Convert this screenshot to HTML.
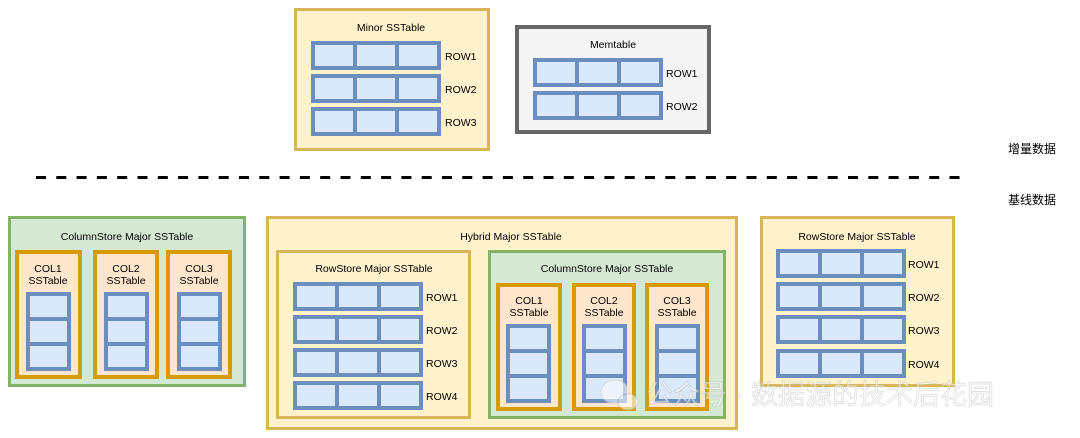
<!DOCTYPE html>
<html><head><meta charset="utf-8"><style>
html,body{margin:0;padding:0;background:#fff;}
svg{display:block;}
text{font-family:"Liberation Sans","Noto Sans CJK SC",sans-serif;font-size:10.5px;fill:#000;}
.cn{font-size:12px;}
</style></head><body>
<svg width="1080" height="438" viewBox="0 0 1080 438" xmlns="http://www.w3.org/2000/svg">
<defs>
<g id="row">
<rect x="2" y="2" width="126" height="25" fill="#dae8fc" stroke="#6c8ebf" stroke-width="4"/>
<line x1="44" y1="2" x2="44" y2="27" stroke="#6c8ebf" stroke-width="4"/>
<line x1="86" y1="2" x2="86" y2="27" stroke="#6c8ebf" stroke-width="4"/>
</g>
<g id="col">
<rect x="2" y="2" width="41" height="75" fill="#dae8fc" stroke="#6c8ebf" stroke-width="4"/>
<line x1="2" y1="27" x2="43" y2="27" stroke="#6c8ebf" stroke-width="4"/>
<line x1="2" y1="52" x2="43" y2="52" stroke="#6c8ebf" stroke-width="4"/>
</g>
</defs>

<!-- Minor SSTable -->
<rect x="295.5" y="9.5" width="193" height="140" fill="#fff2cc" stroke="#d6b656" stroke-width="3"/>
<text x="391" y="31" text-anchor="middle">Minor SSTable</text>
<use href="#row" x="311" y="41"/>
<use href="#row" x="311" y="74"/>
<use href="#row" x="311" y="107"/>
<text x="445" y="60">ROW1</text>
<text x="445" y="93">ROW2</text>
<text x="445" y="126">ROW3</text>

<!-- Memtable -->
<rect x="517" y="27" width="192" height="105" fill="#f5f5f5" stroke="#666666" stroke-width="4"/>
<text x="613" y="48" text-anchor="middle">Memtable</text>
<use href="#row" x="533" y="58"/>
<use href="#row" x="533" y="91"/>
<text x="666" y="77">ROW1</text>
<text x="666" y="110">ROW2</text>

<!-- dashed line -->
<line x1="36" y1="177.5" x2="968" y2="177.5" stroke="#000" stroke-width="3" stroke-dasharray="10,10.3"/>
<text class="cn" x="1008" y="153">增量数据</text>
<text class="cn" x="1008" y="204">基线数据</text>

<!-- Left ColumnStore -->
<rect x="9.5" y="217.5" width="235" height="168" fill="#d5e8d4" stroke="#82b366" stroke-width="3"/>
<text x="127" y="240" text-anchor="middle">ColumnStore Major SSTable</text>
<rect x="17" y="252" width="63" height="125" fill="#ffe6cc" stroke="#d79b00" stroke-width="4"/>
<text x="48" y="272" text-anchor="middle">COL1</text><text x="48" y="284" text-anchor="middle">SSTable</text>
<use href="#col" x="26" y="292"/>
<rect x="95" y="252" width="62" height="125" fill="#ffe6cc" stroke="#d79b00" stroke-width="4"/>
<text x="126" y="272" text-anchor="middle">COL2</text><text x="126" y="284" text-anchor="middle">SSTable</text>
<use href="#col" x="104" y="292"/>
<rect x="168" y="252" width="62" height="125" fill="#ffe6cc" stroke="#d79b00" stroke-width="4"/>
<text x="199" y="272" text-anchor="middle">COL3</text><text x="199" y="284" text-anchor="middle">SSTable</text>
<use href="#col" x="177" y="292"/>

<!-- Hybrid -->
<rect x="267.5" y="217.5" width="469" height="211" fill="#fff2cc" stroke="#d6b656" stroke-width="3"/>
<text x="511" y="240" text-anchor="middle">Hybrid Major SSTable</text>
<rect x="277.5" y="251.5" width="192" height="166" fill="#fff2cc" stroke="#d6b656" stroke-width="3"/>
<text x="374" y="272" text-anchor="middle">RowStore Major SSTable</text>
<use href="#row" x="293" y="282"/>
<use href="#row" x="293" y="315"/>
<use href="#row" x="293" y="348"/>
<use href="#row" x="293" y="381"/>
<text x="426" y="301">ROW1</text>
<text x="426" y="334">ROW2</text>
<text x="426" y="367">ROW3</text>
<text x="426" y="400">ROW4</text>

<rect x="489.5" y="251.5" width="235" height="166" fill="#d5e8d4" stroke="#82b366" stroke-width="3"/>
<text x="607" y="272" text-anchor="middle">ColumnStore Major SSTable</text>
<rect x="498" y="285" width="62" height="124" fill="#ffe6cc" stroke="#d79b00" stroke-width="4"/>
<text x="529" y="304" text-anchor="middle">COL1</text><text x="529" y="316" text-anchor="middle">SSTable</text>
<use href="#col" x="506" y="324"/>
<rect x="574" y="285" width="60" height="124" fill="#ffe6cc" stroke="#d79b00" stroke-width="4"/>
<text x="604" y="304" text-anchor="middle">COL2</text><text x="604" y="316" text-anchor="middle">SSTable</text>
<use href="#col" x="582" y="324"/>
<rect x="647" y="285" width="60" height="124" fill="#ffe6cc" stroke="#d79b00" stroke-width="4"/>
<text x="677" y="304" text-anchor="middle">COL3</text><text x="677" y="316" text-anchor="middle">SSTable</text>
<use href="#col" x="655" y="324"/>

<!-- Right RowStore -->
<rect x="761.5" y="217.5" width="192" height="168" fill="#fff2cc" stroke="#d6b656" stroke-width="3"/>
<text x="857" y="240" text-anchor="middle">RowStore Major SSTable</text>
<use href="#row" x="776" y="249"/>
<use href="#row" x="776" y="282"/>
<use href="#row" x="776" y="315"/>
<use href="#row" x="776" y="349"/>
<text x="908" y="268">ROW1</text>
<text x="908" y="301">ROW2</text>
<text x="908" y="334">ROW3</text>
<text x="908" y="368">ROW4</text>

<!-- watermark -->
<g opacity="0.55">
<ellipse cx="615" cy="392" rx="14" ry="12" fill="#ffffff" stroke="#cccccc" stroke-width="1"/>
<ellipse cx="628" cy="402" rx="10" ry="8" fill="#ffffff" stroke="#cccccc" stroke-width="1"/>
<text x="646" y="404" style="font-size:27px;fill:#ffffff;stroke:#bbbbbb;stroke-width:0.7">公众号 · 数据源的技术后花园</text>
</g>
</svg>
</body></html>
